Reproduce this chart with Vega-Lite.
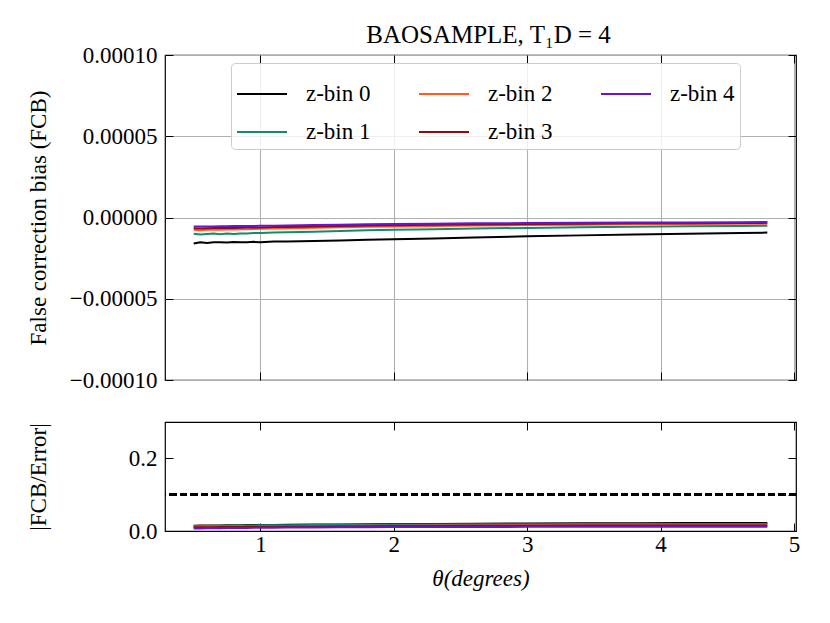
{
  "$schema": "https://vega.github.io/schema/vega-lite/v6.json",
  "background": "white",
  "padding": {"left": 26, "top": 22, "right": 5, "bottom": 5},
  "config": {
    "font": "Liberation Serif",
    "view": {"stroke": "black", "strokeWidth": 1.2},
    "axis": {
      "domain": false,
      "tickSize": -8,
      "tickColor": "black",
      "tickWidth": 1,
      "labelFontSize": 23,
      "labelColor": "black",
      "labelFlush": false,
      "labelPadding": 10,
      "titleFontSize": 23,
      "titleColor": "black",
      "titleFontWeight": "normal",
      "gridColor": "#b0b0b0",
      "gridWidth": 1.1,
      "gridOpacity": 1
    }
  },
  "datasets": {
    "fcb": [
      {"t": 0.5, "bin": "z-bin 0", "fcb": -1.60e-5, "r": 0.0145},
      {"t": 0.55, "bin": "z-bin 0", "fcb": -1.52e-5, "r": 0.0148},
      {"t": 0.6, "bin": "z-bin 0", "fcb": -1.57e-5, "r": 0.0150},
      {"t": 0.65, "bin": "z-bin 0", "fcb": -1.53e-5, "r": 0.0152},
      {"t": 0.7, "bin": "z-bin 0", "fcb": -1.53e-5, "r": 0.0154},
      {"t": 0.75, "bin": "z-bin 0", "fcb": -1.54e-5, "r": 0.0156},
      {"t": 0.8, "bin": "z-bin 0", "fcb": -1.51e-5, "r": 0.0158},
      {"t": 0.85, "bin": "z-bin 0", "fcb": -1.53e-5, "r": 0.0160},
      {"t": 0.9, "bin": "z-bin 0", "fcb": -1.52e-5, "r": 0.0162},
      {"t": 0.95, "bin": "z-bin 0", "fcb": -1.50e-5, "r": 0.0163},
      {"t": 1.0, "bin": "z-bin 0", "fcb": -1.52e-5, "r": 0.0165},
      {"t": 1.1, "bin": "z-bin 0", "fcb": -1.47e-5, "r": 0.0168},
      {"t": 1.2, "bin": "z-bin 0", "fcb": -1.48e-5, "r": 0.0171},
      {"t": 1.4, "bin": "z-bin 0", "fcb": -1.44e-5, "r": 0.0176},
      {"t": 1.6, "bin": "z-bin 0", "fcb": -1.41e-5, "r": 0.0181},
      {"t": 1.8, "bin": "z-bin 0", "fcb": -1.37e-5, "r": 0.0186},
      {"t": 2.0, "bin": "z-bin 0", "fcb": -1.34e-5, "r": 0.0190},
      {"t": 2.3, "bin": "z-bin 0", "fcb": -1.29e-5, "r": 0.0196},
      {"t": 2.6, "bin": "z-bin 0", "fcb": -1.23e-5, "r": 0.0201},
      {"t": 3.0, "bin": "z-bin 0", "fcb": -1.16e-5, "r": 0.0207},
      {"t": 3.4, "bin": "z-bin 0", "fcb": -1.10e-5, "r": 0.0212},
      {"t": 3.8, "bin": "z-bin 0", "fcb": -1.05e-5, "r": 0.0215},
      {"t": 4.2, "bin": "z-bin 0", "fcb": -1.00e-5, "r": 0.0217},
      {"t": 4.6, "bin": "z-bin 0", "fcb": -0.95e-5, "r": 0.0218},
      {"t": 4.8, "bin": "z-bin 0", "fcb": -0.93e-5, "r": 0.0218},

      {"t": 0.5, "bin": "z-bin 1", "fcb": -1.00e-5, "r": 0.0135},
      {"t": 0.55, "bin": "z-bin 1", "fcb": -1.05e-5, "r": 0.0138},
      {"t": 0.6, "bin": "z-bin 1", "fcb": -1.02e-5, "r": 0.0140},
      {"t": 0.65, "bin": "z-bin 1", "fcb": -0.99e-5, "r": 0.0142},
      {"t": 0.7, "bin": "z-bin 1", "fcb": -1.03e-5, "r": 0.0144},
      {"t": 0.75, "bin": "z-bin 1", "fcb": -0.99e-5, "r": 0.0146},
      {"t": 0.8, "bin": "z-bin 1", "fcb": -1.01e-5, "r": 0.0148},
      {"t": 0.85, "bin": "z-bin 1", "fcb": -0.98e-5, "r": 0.0150},
      {"t": 0.9, "bin": "z-bin 1", "fcb": -0.98e-5, "r": 0.0151},
      {"t": 0.95, "bin": "z-bin 1", "fcb": -0.96e-5, "r": 0.0153},
      {"t": 1.0, "bin": "z-bin 1", "fcb": -0.95e-5, "r": 0.0155},
      {"t": 1.1, "bin": "z-bin 1", "fcb": -0.93e-5, "r": 0.0158},
      {"t": 1.2, "bin": "z-bin 1", "fcb": -0.91e-5, "r": 0.0161},
      {"t": 1.4, "bin": "z-bin 1", "fcb": -0.87e-5, "r": 0.0166},
      {"t": 1.6, "bin": "z-bin 1", "fcb": -0.83e-5, "r": 0.0170},
      {"t": 1.8, "bin": "z-bin 1", "fcb": -0.79e-5, "r": 0.0174},
      {"t": 2.0, "bin": "z-bin 1", "fcb": -0.76e-5, "r": 0.0177},
      {"t": 2.3, "bin": "z-bin 1", "fcb": -0.72e-5, "r": 0.0181},
      {"t": 2.6, "bin": "z-bin 1", "fcb": -0.68e-5, "r": 0.0184},
      {"t": 3.0, "bin": "z-bin 1", "fcb": -0.64e-5, "r": 0.0188},
      {"t": 3.4, "bin": "z-bin 1", "fcb": -0.60e-5, "r": 0.0191},
      {"t": 3.8, "bin": "z-bin 1", "fcb": -0.57e-5, "r": 0.0193},
      {"t": 4.2, "bin": "z-bin 1", "fcb": -0.54e-5, "r": 0.0194},
      {"t": 4.6, "bin": "z-bin 1", "fcb": -0.52e-5, "r": 0.0195},
      {"t": 4.8, "bin": "z-bin 1", "fcb": -0.51e-5, "r": 0.0195},

      {"t": 0.5, "bin": "z-bin 2", "fcb": -0.76e-5, "r": 0.0110},
      {"t": 0.55, "bin": "z-bin 2", "fcb": -0.78e-5, "r": 0.0112},
      {"t": 0.6, "bin": "z-bin 2", "fcb": -0.76e-5, "r": 0.0114},
      {"t": 0.65, "bin": "z-bin 2", "fcb": -0.75e-5, "r": 0.0116},
      {"t": 0.7, "bin": "z-bin 2", "fcb": -0.76e-5, "r": 0.0118},
      {"t": 0.75, "bin": "z-bin 2", "fcb": -0.74e-5, "r": 0.0120},
      {"t": 0.8, "bin": "z-bin 2", "fcb": -0.74e-5, "r": 0.0121},
      {"t": 0.85, "bin": "z-bin 2", "fcb": -0.73e-5, "r": 0.0123},
      {"t": 0.9, "bin": "z-bin 2", "fcb": -0.72e-5, "r": 0.0124},
      {"t": 0.95, "bin": "z-bin 2", "fcb": -0.71e-5, "r": 0.0126},
      {"t": 1.0, "bin": "z-bin 2", "fcb": -0.70e-5, "r": 0.0127},
      {"t": 1.1, "bin": "z-bin 2", "fcb": -0.68e-5, "r": 0.0130},
      {"t": 1.2, "bin": "z-bin 2", "fcb": -0.66e-5, "r": 0.0133},
      {"t": 1.4, "bin": "z-bin 2", "fcb": -0.63e-5, "r": 0.0137},
      {"t": 1.6, "bin": "z-bin 2", "fcb": -0.60e-5, "r": 0.0141},
      {"t": 1.8, "bin": "z-bin 2", "fcb": -0.57e-5, "r": 0.0144},
      {"t": 2.0, "bin": "z-bin 2", "fcb": -0.55e-5, "r": 0.0147},
      {"t": 2.3, "bin": "z-bin 2", "fcb": -0.52e-5, "r": 0.0150},
      {"t": 2.6, "bin": "z-bin 2", "fcb": -0.49e-5, "r": 0.0153},
      {"t": 3.0, "bin": "z-bin 2", "fcb": -0.46e-5, "r": 0.0156},
      {"t": 3.4, "bin": "z-bin 2", "fcb": -0.44e-5, "r": 0.0158},
      {"t": 3.8, "bin": "z-bin 2", "fcb": -0.42e-5, "r": 0.0159},
      {"t": 4.2, "bin": "z-bin 2", "fcb": -0.40e-5, "r": 0.0160},
      {"t": 4.6, "bin": "z-bin 2", "fcb": -0.39e-5, "r": 0.0160},
      {"t": 4.8, "bin": "z-bin 2", "fcb": -0.38e-5, "r": 0.0160},

      {"t": 0.5, "bin": "z-bin 3", "fcb": -0.66e-5, "r": 0.0100},
      {"t": 0.55, "bin": "z-bin 3", "fcb": -0.67e-5, "r": 0.0102},
      {"t": 0.6, "bin": "z-bin 3", "fcb": -0.66e-5, "r": 0.0104},
      {"t": 0.65, "bin": "z-bin 3", "fcb": -0.65e-5, "r": 0.0106},
      {"t": 0.7, "bin": "z-bin 3", "fcb": -0.65e-5, "r": 0.0108},
      {"t": 0.75, "bin": "z-bin 3", "fcb": -0.64e-5, "r": 0.0110},
      {"t": 0.8, "bin": "z-bin 3", "fcb": -0.64e-5, "r": 0.0111},
      {"t": 0.85, "bin": "z-bin 3", "fcb": -0.63e-5, "r": 0.0113},
      {"t": 0.9, "bin": "z-bin 3", "fcb": -0.62e-5, "r": 0.0114},
      {"t": 0.95, "bin": "z-bin 3", "fcb": -0.62e-5, "r": 0.0116},
      {"t": 1.0, "bin": "z-bin 3", "fcb": -0.61e-5, "r": 0.0117},
      {"t": 1.1, "bin": "z-bin 3", "fcb": -0.59e-5, "r": 0.0120},
      {"t": 1.2, "bin": "z-bin 3", "fcb": -0.58e-5, "r": 0.0123},
      {"t": 1.4, "bin": "z-bin 3", "fcb": -0.55e-5, "r": 0.0127},
      {"t": 1.6, "bin": "z-bin 3", "fcb": -0.52e-5, "r": 0.0131},
      {"t": 1.8, "bin": "z-bin 3", "fcb": -0.50e-5, "r": 0.0134},
      {"t": 2.0, "bin": "z-bin 3", "fcb": -0.48e-5, "r": 0.0137},
      {"t": 2.3, "bin": "z-bin 3", "fcb": -0.45e-5, "r": 0.0140},
      {"t": 2.6, "bin": "z-bin 3", "fcb": -0.43e-5, "r": 0.0143},
      {"t": 3.0, "bin": "z-bin 3", "fcb": -0.40e-5, "r": 0.0146},
      {"t": 3.4, "bin": "z-bin 3", "fcb": -0.38e-5, "r": 0.0148},
      {"t": 3.8, "bin": "z-bin 3", "fcb": -0.36e-5, "r": 0.0149},
      {"t": 4.2, "bin": "z-bin 3", "fcb": -0.35e-5, "r": 0.0150},
      {"t": 4.6, "bin": "z-bin 3", "fcb": -0.34e-5, "r": 0.0150},
      {"t": 4.8, "bin": "z-bin 3", "fcb": -0.33e-5, "r": 0.0150},

      {"t": 0.5, "bin": "z-bin 4", "fcb": -0.56e-5, "r": 0.0070},
      {"t": 0.55, "bin": "z-bin 4", "fcb": -0.56e-5, "r": 0.0072},
      {"t": 0.6, "bin": "z-bin 4", "fcb": -0.55e-5, "r": 0.0074},
      {"t": 0.65, "bin": "z-bin 4", "fcb": -0.55e-5, "r": 0.0076},
      {"t": 0.7, "bin": "z-bin 4", "fcb": -0.54e-5, "r": 0.0078},
      {"t": 0.75, "bin": "z-bin 4", "fcb": -0.54e-5, "r": 0.0080},
      {"t": 0.8, "bin": "z-bin 4", "fcb": -0.53e-5, "r": 0.0081},
      {"t": 0.85, "bin": "z-bin 4", "fcb": -0.53e-5, "r": 0.0083},
      {"t": 0.9, "bin": "z-bin 4", "fcb": -0.52e-5, "r": 0.0084},
      {"t": 0.95, "bin": "z-bin 4", "fcb": -0.52e-5, "r": 0.0086},
      {"t": 1.0, "bin": "z-bin 4", "fcb": -0.51e-5, "r": 0.0087},
      {"t": 1.1, "bin": "z-bin 4", "fcb": -0.50e-5, "r": 0.0090},
      {"t": 1.2, "bin": "z-bin 4", "fcb": -0.49e-5, "r": 0.0093},
      {"t": 1.4, "bin": "z-bin 4", "fcb": -0.46e-5, "r": 0.0097},
      {"t": 1.6, "bin": "z-bin 4", "fcb": -0.44e-5, "r": 0.0101},
      {"t": 1.8, "bin": "z-bin 4", "fcb": -0.42e-5, "r": 0.0104},
      {"t": 2.0, "bin": "z-bin 4", "fcb": -0.40e-5, "r": 0.0107},
      {"t": 2.3, "bin": "z-bin 4", "fcb": -0.38e-5, "r": 0.0110},
      {"t": 2.6, "bin": "z-bin 4", "fcb": -0.36e-5, "r": 0.0112},
      {"t": 3.0, "bin": "z-bin 4", "fcb": -0.34e-5, "r": 0.0114},
      {"t": 3.4, "bin": "z-bin 4", "fcb": -0.32e-5, "r": 0.0116},
      {"t": 3.8, "bin": "z-bin 4", "fcb": -0.31e-5, "r": 0.0117},
      {"t": 4.2, "bin": "z-bin 4", "fcb": -0.30e-5, "r": 0.0118},
      {"t": 4.6, "bin": "z-bin 4", "fcb": -0.29e-5, "r": 0.0118},
      {"t": 4.8, "bin": "z-bin 4", "fcb": -0.28e-5, "r": 0.0118}
    ]
  },
  "spacing": 27,
  "resolve": {"legend": {"color": "independent"}},
  "vconcat": [
    {
      "width": 631,
      "height": 325,
      "title": {"text": "BAOSAMPLE, T₁D = 4", "fontSize": 25, "fontWeight": "normal", "color": "black", "offset": -4, "dx": 8},
      "data": {"name": "fcb"},
      "layer": [
        {
          "mark": {"type": "line", "strokeWidth": 2},
          "encoding": {
            "x": {
              "field": "t", "type": "quantitative",
              "scale": {"domain": [0.285, 5.015], "nice": false, "zero": false},
              "axis": {"orient": "bottom", "values": [1, 2, 3, 4, 5], "labels": false, "title": null, "grid": true}
            },
            "y": {
              "field": "fcb", "type": "quantitative",
              "scale": {"domain": [-0.0001, 0.0001], "nice": false},
              "axis": {
                "orient": "left", "values": [-0.0001, -0.00005, 0, 0.00005, 0.0001], "format": ".5f", "grid": true,
                "labelPadding": 16,
                "title": "False correction bias (FCB)", "titleX": -120, "titleBaseline": "alphabetic"
              }
            },
            "color": {
              "field": "bin", "type": "nominal",
              "scale": {
                "domain": ["z-bin 0", "z-bin 1", "z-bin 2", "z-bin 3", "z-bin 4"],
                "range": ["#000000", "#168a6d", "#ff5a1f", "#8a0f10", "#6c12d4"]
              },
              "legend": {
                "orient": "none", "legendX": 66, "legendY": 8, "title": null, "columns": 3,
                "symbolType": "stroke", "symbolSize": 2500, "symbolStrokeWidth": 2,
                "labelFontSize": 23, "labelColor": "black", "labelOffset": 18, "labelLimit": 300,
                "columnPadding": 44, "rowPadding": 0, "padding": 5,
                "strokeColor": "#cccccc", "fillColor": "rgba(255,255,255,0.8)", "cornerRadius": 4
              }
            }
          }
        },
        {
          "mark": {"type": "line", "opacity": 0},
          "encoding": {
            "x": {"field": "t", "type": "quantitative", "axis": {"orient": "top", "values": [1, 2, 3, 4, 5], "labels": false, "title": null, "grid": false}},
            "y": {"field": "fcb", "type": "quantitative", "axis": {"orient": "right", "values": [-0.0001, -0.00005, 0, 0.00005, 0.0001], "labels": false, "title": null, "grid": false}},
            "detail": {"field": "bin"}
          }
        }
      ],
      "resolve": {"axis": {"x": "independent", "y": "independent"}}
    },
    {
      "width": 631,
      "height": 109,
      "data": {"name": "fcb"},
      "layer": [
        {
          "mark": {"type": "line", "strokeWidth": 2},
          "encoding": {
            "x": {
              "field": "t", "type": "quantitative",
              "scale": {"domain": [0.285, 5.015], "nice": false, "zero": false},
              "axis": {"orient": "bottom", "values": [1, 2, 3, 4, 5], "format": "d", "grid": false, "title": "θ(degrees)", "titleFontStyle": "italic", "titlePadding": 11}
            },
            "y": {
              "field": "r", "type": "quantitative",
              "scale": {"domain": [0, 0.3], "nice": false},
              "axis": {"orient": "left", "values": [0, 0.2], "format": ".1f", "grid": false, "labelPadding": 16, "title": "|FCB/Error|", "titleX": -120, "titleBaseline": "alphabetic"}
            },
            "color": {"field": "bin", "type": "nominal", "legend": null}
          }
        },
        {
          "mark": {"type": "rule", "color": "black", "strokeWidth": 2, "strokeDash": [7, 3.5]},
          "encoding": {"y": {"datum": 0.1, "type": "quantitative", "axis": null}}
        },
        {
          "mark": {"type": "line", "opacity": 0},
          "encoding": {
            "x": {"field": "t", "type": "quantitative", "axis": {"orient": "top", "values": [1, 2, 3, 4, 5], "labels": false, "title": null, "grid": false}},
            "y": {"field": "r", "type": "quantitative", "axis": {"orient": "right", "values": [0, 0.1, 0.2], "labels": false, "title": null, "grid": false}},
            "detail": {"field": "bin"}
          }
        }
      ],
      "resolve": {"axis": {"x": "independent", "y": "independent"}}
    }
  ]
}
